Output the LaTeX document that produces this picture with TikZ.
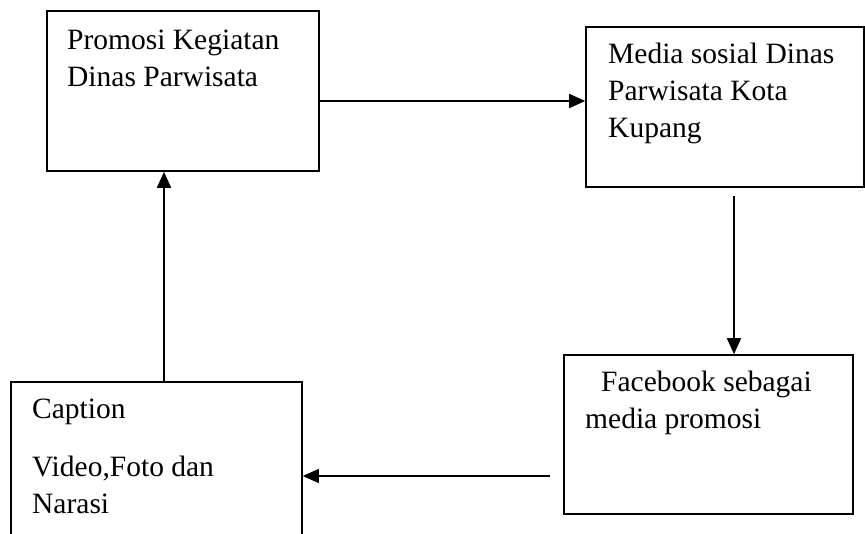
\documentclass[tikz,border=0pt]{standalone}
\usepackage{fontspec}
\setmainfont{Liberation Serif}
\usetikzlibrary{arrows.meta}

\tikzset{
  box/.style={draw, rectangle, line width=1.6pt, inner sep=0pt},
  txt/.style={anchor=base west, align=left, inner sep=0pt,
    font=\fontsize{29.5}{37}\selectfont},
  arr/.style={line width=1.6pt, -{Triangle[length=16pt,width=14pt]}}
}

\begin{document}
\begin{tikzpicture}[x=1pt, y=-1pt]
    \clip (0,0) rectangle (865,534);

    % Boxes
    \node[box, minimum width=272, minimum height=160] (promosi) at (183,91) {};
    \node[box, minimum width=278, minimum height=160] (media) at (725,107) {};
    \node[box, minimum width=289, minimum height=159] (fb) at (708.5,434.5) {};
    \node[box, minimum width=291, minimum height=218] (caption) at (156.5,491) {};

    % Texts (anchored at the baseline of the last line)
    \node[txt] (promositxt) at (67,87) {Promosi Kegiatan\\Dinas Parwisata};
    \node[txt] (mediatxt) at (608,138) {Media sosial Dinas\\Parwisata Kota\\Kupang};
    \node[txt] (fbtxt) at (585,429) {\hspace*{16pt}Facebook sebagai\\media promosi};
    \node[txt] (captiontxt) at (32,513) {Caption\\[21pt]Video,Foto dan\\Narasi};

    % Connections
    \coordinate (dstart) at (734,196);
    \coordinate (lstart) at (550,476);
    \draw[arr] (promosi.east |- 0,101) -- (media.west |- 0,101);
    \draw[arr] (dstart) -- (dstart |- fb.north);
    \draw[arr] (lstart) -- (lstart -| caption.east);
    \draw[arr] (caption.north -| 164,0) -- (promosi.south -| 164,0);
\end{tikzpicture}
\end{document}
